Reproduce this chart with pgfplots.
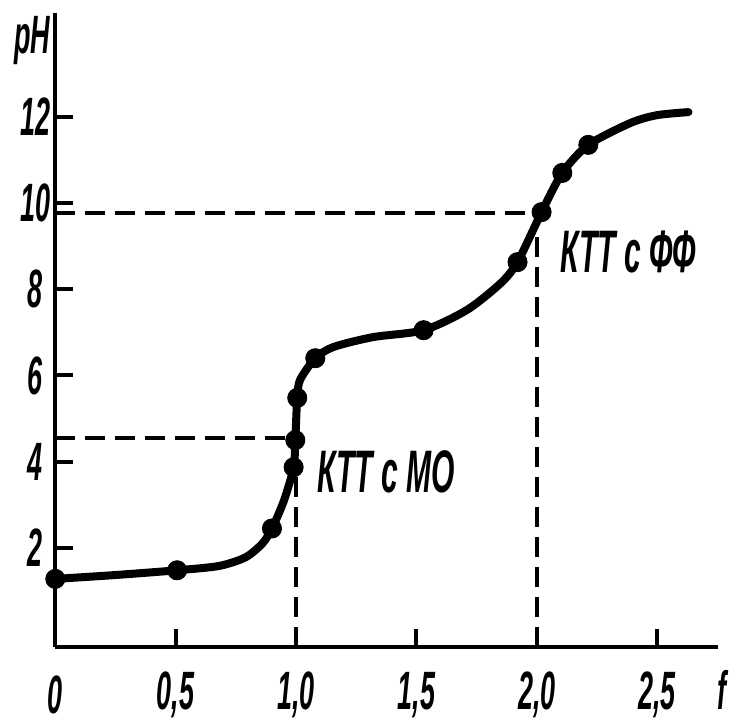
\documentclass[border=0pt]{standalone}
\usepackage{fontspec}
\setmainfont{Liberation Sans}
\newfontfamily\lab[FakeStretch=0.5]{Liberation Sans}
\usepackage{pgfplots}
\pgfplotsset{compat=1.18}
\begin{document}
\begin{tikzpicture}
\useasboundingbox (-27.65pt,-38.5pt) rectangle (340.35pt,323.5pt);
\begin{axis}[
 at={(0,0)}, anchor=south west,
 scale only axis, width=331.5pt, height=317pt,
 xmin=0, xmax=2.754, ymin=-0.30, ymax=14.41,
 axis lines=left,
 axis line style={-, line width=2.2pt},
 tick align=inside, major tick length=9pt,
 tick style={line width=2pt, black},
 xtick={0,0.5,1,1.5,2,2.5},
 xticklabels={0,{0,5},{1,0},{1,5},{2,0},{2,5}},
 ytick={2,4,6,8,10,12},
 yticklabels={2,4,6,8,10,12},
 tick label style={font=\lab\bfseries\itshape\fontsize{27}{27}\selectfont},
 xticklabel style={anchor=center, yshift=-24pt},
 yticklabel style={anchor=center, xshift=-10pt},
 clip=false,
]
% dashed guide lines
\addplot[black, line width=2pt, dash pattern=on 10pt off 5pt] coordinates {(0,4.55) (1.0,4.55)};
\addplot[black, line width=2pt, dash pattern=on 10pt off 5pt] coordinates {(1.0,-0.3) (1.0,4.55)};
\addplot[black, line width=2pt, dash pattern=on 10pt off 5pt] coordinates {(0,9.77) (2.02,9.77)};
\addplot[black, line width=2pt, dash pattern=on 10pt off 5pt] coordinates {(2.0,-0.3) (2.0,9.77)};
% titration curve
\addplot[black, line width=4pt, smooth, tension=0.45, line cap=round] coordinates {
 (0,1.28) (0.25,1.37) (0.506,1.48) (0.68,1.58) (0.79,1.78) (0.86,2.1) (0.9,2.45)
 (0.95,3.1) (0.99,3.87) (0.997,4.5) (1.005,5.48) (1.017,5.9) (1.08,6.40)
 (1.155,6.66) (1.32,6.89) (1.53,7.05) (1.71,7.52) (1.85,8.14) (1.92,8.63)
 (2.02,9.79) (2.106,10.70) (2.214,11.35) (2.39,11.86) (2.50,12.04) (2.63,12.11)
};
% measured points
\addplot[only marks, mark=*, mark size=4.8pt, black] coordinates {
 (0,1.28) (0.506,1.48) (0.9,2.45) (0.99,3.87) (0.997,4.5) (1.005,5.48)
 (1.08,6.40) (1.53,7.05) (1.92,8.63) (2.02,9.79) (2.106,10.70) (2.214,11.35)
};
\node[anchor=west, font=\lab\bfseries\itshape\fontsize{30}{30}\selectfont] at (axis cs:1.059,3.76) {КТТ с МО};
\node[anchor=west, font=\lab\bfseries\itshape\fontsize{30}{30}\selectfont] at (axis cs:2.069,8.86) {КТТ с ФФ};
\node[font=\lab\bfseries\itshape\fontsize{27}{27}\selectfont] at (axis description cs:-0.035,0.957) {pH};
\node[font=\lab\bfseries\itshape\fontsize{27}{27}\selectfont] at (axis description cs:1.006,-0.068) {f};
\end{axis}
\end{tikzpicture}
\end{document}
